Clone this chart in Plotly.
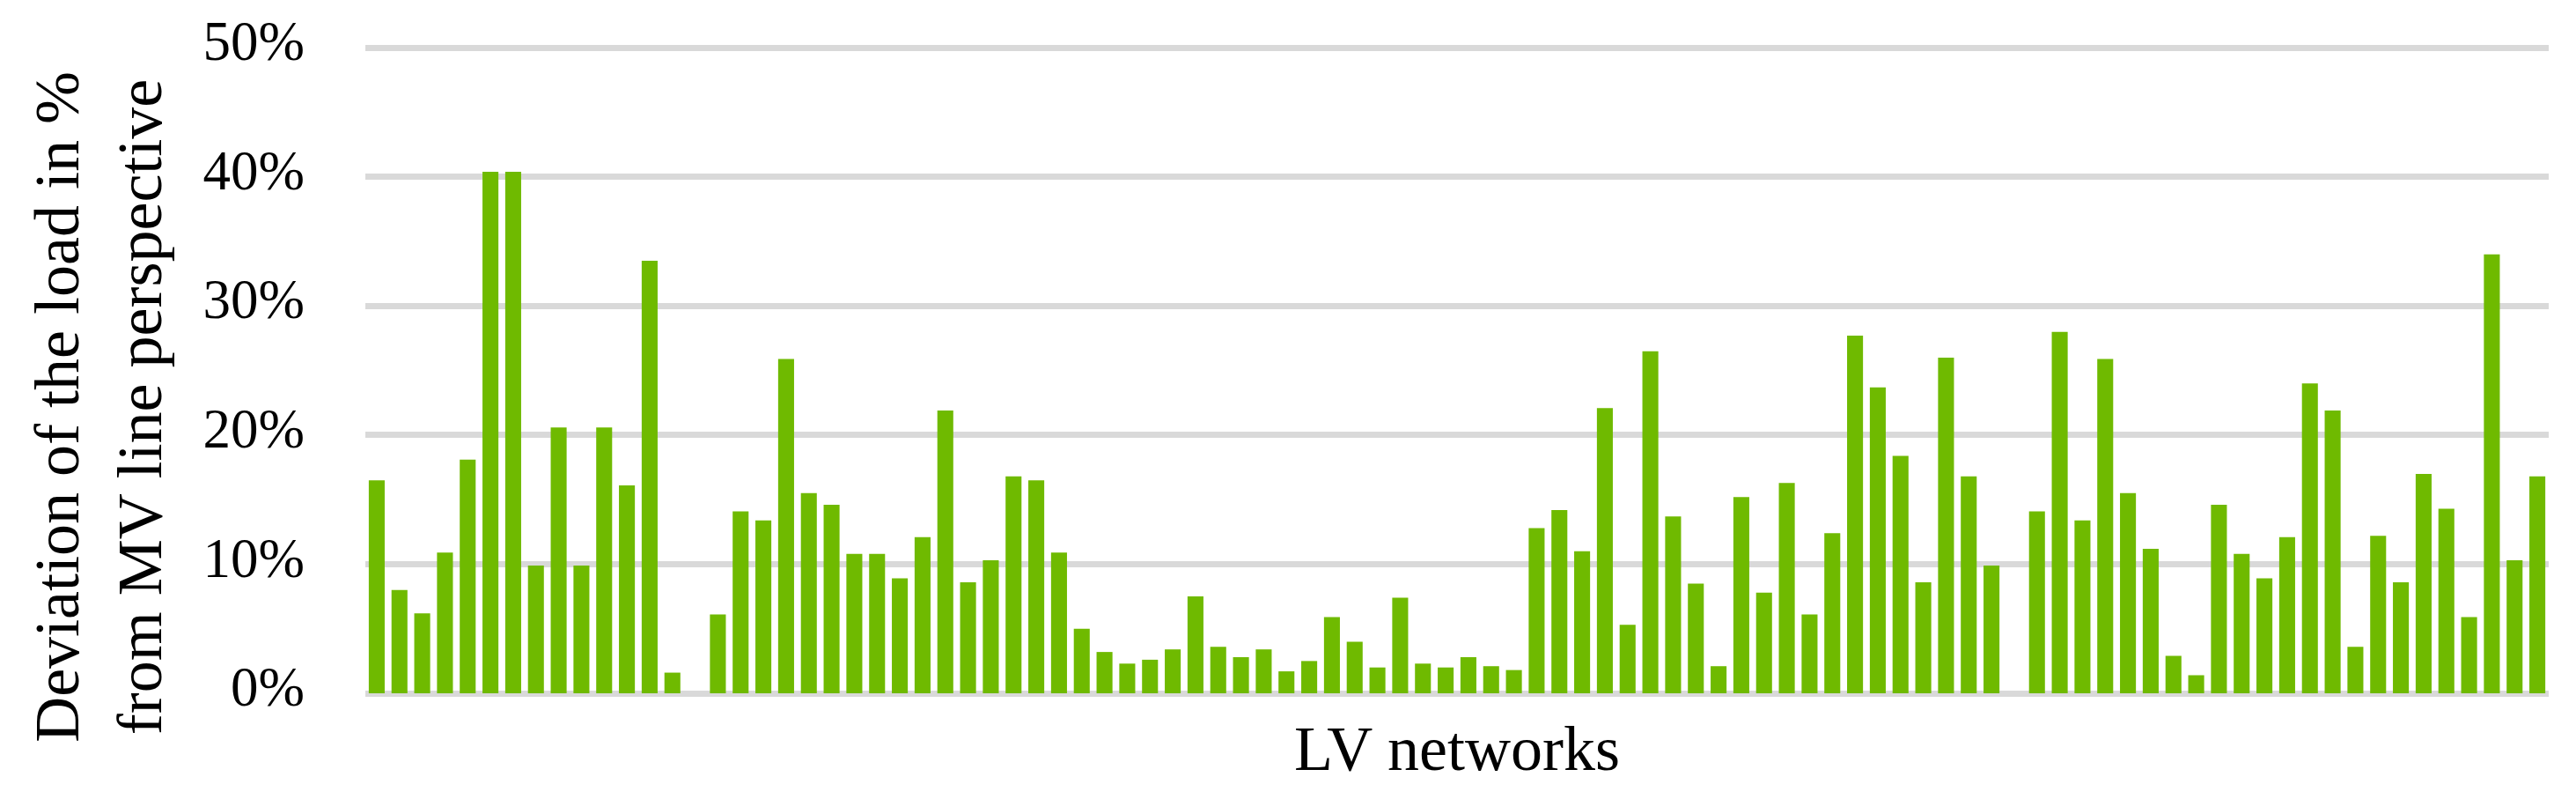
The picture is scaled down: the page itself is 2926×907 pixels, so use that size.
import plotly.graph_objects as go

# Deviation of the load (%) per LV network
deviation_pct = [
    16.5, 8.0, 6.2, 10.9, 18.1, 40.4, 40.4, 9.9, 20.6, 9.9,
    20.6, 16.1, 33.5, 1.6, None, 6.1, 14.1, 13.4, 25.9, 15.5,
    14.6, 10.8, 10.8, 8.9, 12.1, 21.9, 8.6, 10.3, 16.8, 16.5,
    10.9, 5.0, 3.2, 2.3, 2.6, 3.4, 7.5, 3.6, 2.8, 3.4,
    1.7, 2.5, 5.9, 4.0, 2.0, 7.4, 2.3, 2.0, 2.8, 2.1,
    1.8, 12.8, 14.2, 11.0, 22.1, 5.3, 26.5, 13.7, 8.5, 2.1,
    15.2, 7.8, 16.3, 6.1, 12.4, 27.7, 23.7, 18.4, 8.6, 26.0,
    16.8, 9.9, None, 14.1, 28.0, 13.4, 25.9, 15.5, 11.2, 2.9,
    1.4, 14.6, 10.8, 8.9, 12.1, 24.0, 21.9, 3.6, 12.2, 8.6,
    17.0, 14.3, 5.9, 34.0, 10.3, 16.8,
]
networks = [f"LV {i}" for i in range(1, len(deviation_pct) + 1)]
y_ticks = [0, 10, 20, 30, 40, 50]

y_title = "Deviation of the load in %<br>from MV line perspective"
x_title = "LV networks"

FONT = "Liberation Serif"
GRID = "#d9d9d9"
BAR = "#6fba00"

fig = go.Figure(
    go.Bar(x=networks, y=deviation_pct, marker=dict(color=BAR, line=dict(width=0)))
)

# plot area: 0% at y=787, 50% at y=45.5 ; range extended slightly so the 50% grid line is drawn
Y_MAX = 50.5
fig.update_layout(
    width=2926,
    height=907,
    paper_bgcolor="white",
    plot_bgcolor="white",
    margin=dict(l=415, r=31, t=38, b=120),
    bargap=0.3,
    showlegend=False,
    font=dict(family=FONT, color="black"),
)

fig.update_xaxes(
    showticklabels=False,
    ticks="",
    showgrid=False,
    showline=False,
    zeroline=False,
)

fig.update_yaxes(
    range=[0, Y_MAX],
    tickvals=y_ticks,
    ticktext=[f"{v}%" for v in y_ticks],
    tickfont=dict(family=FONT, size=63, color="black"),
    ticks="",
    ticklabelstandoff=68,
    ticklabelshift=-8,
    showgrid=True,
    gridcolor=GRID,
    gridwidth=7,
    zeroline=True,
    zerolinecolor=GRID,
    zerolinewidth=7,
    showline=False,
)

fig.add_annotation(
    text=y_title,
    xref="paper", yref="paper",
    x=-0.122, y=0.44,
    xanchor="center", yanchor="middle",
    textangle=-90,
    showarrow=False,
    font=dict(family=FONT, size=72, color="black"),
)

fig.add_annotation(
    text=x_title,
    xref="paper", yref="paper",
    x=0.5, y=-0.085,
    xanchor="center", yanchor="middle",
    showarrow=False,
    font=dict(family=FONT, size=72, color="black"),
)

fig.write_html(
    "out.html",
    config={"displayModeBar": False},
    post_script="document.body.style.margin='0';",
)
